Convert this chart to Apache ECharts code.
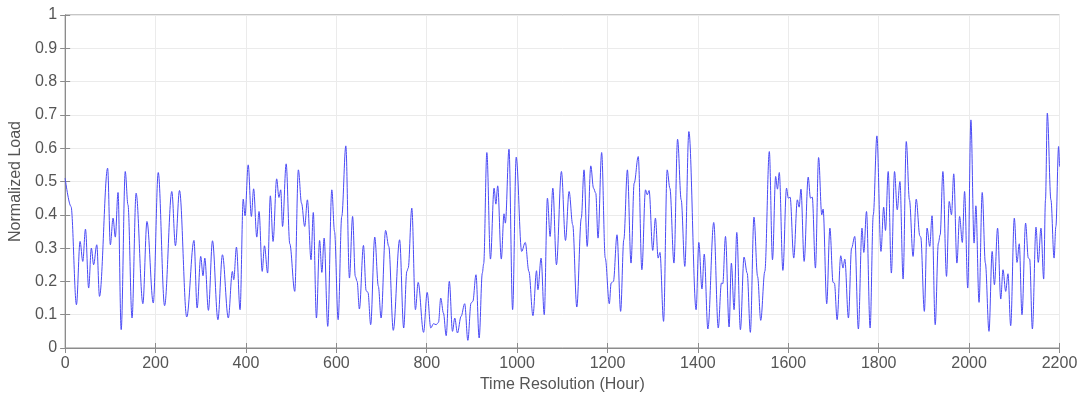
<!DOCTYPE html>
<html>
<head>
<meta charset="utf-8">
<script src="https://cdn.jsdelivr.net/npm/echarts@6/dist/echarts.min.js"></script>
<style>
  html, body { margin: 0; padding: 0; background: #fff; }
  #chart { width: 1083px; height: 399px; }
</style>
</head>
<body>
<div id="chart"></div>
<script>
// hour of each local extremum
const hours = [
  0, 13, 25, 33, 39, 45, 52, 58, 63, 70, 76, 94, 100, 106, 111, 117, 124, 133, 139, 148,
  157, 172, 181, 195, 206, 220, 236, 244, 253, 269, 285, 292, 300, 305, 309, 317, 326, 338,
  348, 361, 370, 373, 379, 387, 394, 398, 405, 412, 417, 424, 429, 436, 441, 448, 454, 460,
  468, 473, 477, 481, 489, 497, 508, 516, 523, 530, 536, 544, 549, 556, 563, 568, 573, 581,
  590, 596, 604, 612, 621, 629, 636, 642, 646, 651, 660, 666, 670, 676, 685, 693, 699, 709,
  716, 726, 740, 749, 756, 759, 767, 775, 781, 793, 801, 809, 815, 821, 826, 831, 837, 843,
  850, 857, 862, 868, 876, 884, 891, 898, 902, 909, 916, 923, 926, 933, 941, 949, 953, 957,
  965, 971, 974, 982, 990, 998, 1010, 1018, 1026, 1035, 1043, 1046, 1053, 1060, 1067, 1073,
  1079, 1087, 1098, 1107, 1115, 1123, 1132, 1142, 1148, 1155, 1163, 1169, 1174, 1179, 1187,
  1195, 1204, 1208, 1213, 1221, 1229, 1236, 1244, 1252, 1259, 1268, 1276, 1284, 1288, 1292,
  1300, 1306, 1312, 1316, 1324, 1332, 1338, 1347, 1355, 1363, 1371, 1380, 1396, 1402, 1409,
  1414, 1422, 1435, 1445, 1452, 1455, 1461, 1469, 1474, 1480, 1486, 1494, 1502, 1509, 1516,
  1524, 1532, 1539, 1548, 1558, 1565, 1572, 1576, 1580, 1588, 1596, 1600, 1604, 1612, 1620,
  1624, 1628, 1635, 1644, 1649, 1653, 1660, 1667, 1674, 1677, 1685, 1692, 1699, 1702, 1708,
  1716, 1721, 1725, 1733, 1740, 1747, 1755, 1763, 1767, 1773, 1781, 1788, 1796, 1805, 1811,
  1815, 1821, 1828, 1835, 1841, 1847, 1854, 1861, 1868, 1876, 1883, 1891, 1893, 1901, 1907,
  1913, 1918, 1925, 1932, 1936, 1942, 1950, 1956, 1961, 1966, 1973, 1979, 1985, 1990, 1997,
  2004, 2011, 2015, 2022, 2029, 2036, 2044, 2051, 2056, 2063, 2070, 2075, 2081, 2086, 2092,
  2100, 2106, 2111, 2117, 2125, 2131, 2134, 2140, 2148, 2153, 2159, 2165, 2169, 2173, 2181,
  2188, 2192, 2198, 2200
];
const load = [
  0.51, 0.425, 0.13, 0.32, 0.26, 0.357, 0.18, 0.30, 0.25, 0.31, 0.155, 0.54, 0.31, 0.39, 0.333, 0.467, 0.055, 0.53, 0.43, 0.09,
  0.465, 0.133, 0.38, 0.135, 0.527, 0.127, 0.47, 0.307, 0.473, 0.093, 0.323, 0.12, 0.275, 0.217, 0.27, 0.113, 0.322, 0.085,
  0.28, 0.09, 0.23, 0.205, 0.303, 0.115, 0.447, 0.397, 0.55, 0.395, 0.478, 0.333, 0.41, 0.23, 0.307, 0.225, 0.457, 0.32,
  0.508, 0.452, 0.475, 0.365, 0.553, 0.313, 0.17, 0.535, 0.435, 0.365, 0.445, 0.265, 0.407, 0.09, 0.323, 0.227, 0.33, 0.065,
  0.475, 0.35, 0.085, 0.395, 0.607, 0.21, 0.395, 0.215, 0.2, 0.117, 0.308, 0.172, 0.167, 0.07, 0.333, 0.185, 0.09, 0.353,
  0.305, 0.053, 0.325, 0.06, 0.23, 0.24, 0.42, 0.115, 0.197, 0.047, 0.167, 0.06, 0.073, 0.07, 0.077, 0.15, 0.105, 0.037,
  0.2, 0.05, 0.09, 0.045, 0.095, 0.133, 0.023, 0.135, 0.14, 0.22, 0.03, 0.225, 0.253, 0.587, 0.267, 0.48, 0.432, 0.487,
  0.267, 0.403, 0.375, 0.597, 0.115, 0.573, 0.29, 0.317, 0.23, 0.097, 0.232, 0.175, 0.27, 0.1, 0.45, 0.335,
  0.48, 0.25, 0.53, 0.323, 0.47, 0.37, 0.123, 0.39, 0.535, 0.305, 0.547, 0.48, 0.465, 0.33, 0.587,
  0.27, 0.133, 0.195, 0.2, 0.34, 0.11, 0.325, 0.535, 0.255, 0.495, 0.575, 0.235, 0.475, 0.46, 0.473,
  0.293, 0.39, 0.27, 0.287, 0.08, 0.535, 0.48, 0.255, 0.627, 0.445, 0.245, 0.65, 0.115, 0.317, 0.177,
  0.282, 0.057, 0.377, 0.06, 0.195, 0.193, 0.335, 0.063, 0.255, 0.115, 0.347, 0.055, 0.273, 0.225, 0.047,
  0.393, 0.215, 0.083, 0.23, 0.59, 0.265, 0.515, 0.477, 0.527, 0.233, 0.48, 0.45, 0.453, 0.27, 0.445,
  0.423, 0.477, 0.26, 0.513, 0.45, 0.453, 0.24, 0.572, 0.4, 0.417, 0.133, 0.36, 0.197, 0.195, 0.085,
  0.277, 0.24, 0.267, 0.09, 0.3, 0.335, 0.057, 0.36, 0.287, 0.41, 0.06, 0.4, 0.637, 0.29, 0.423,
  0.353, 0.53, 0.225, 0.53, 0.415, 0.5, 0.207, 0.62, 0.445, 0.275, 0.447, 0.337, 0.333, 0.11, 0.36,
  0.305, 0.397, 0.07, 0.315, 0.34, 0.53, 0.215, 0.44, 0.4, 0.523, 0.255, 0.395, 0.317, 0.47, 0.18,
  0.685, 0.315, 0.427, 0.137, 0.467, 0.255, 0.05, 0.29, 0.19, 0.36, 0.147, 0.235, 0.17, 0.223, 0.067,
  0.39, 0.257, 0.313, 0.1, 0.375, 0.27, 0.267, 0.057, 0.363, 0.257, 0.36, 0.207, 0.445, 0.705, 0.445,
  0.27, 0.365, 0.605, 0.545
];
const xTicks = [0, 200, 400, 600, 800, 1000, 1200, 1400, 1600, 1800, 2000, 2200];
const yTicks = [0, 0.1, 0.2, 0.3, 0.4, 0.5, 0.6, 0.7, 0.8, 0.9, 1];

const chart = echarts.init(document.getElementById('chart'));
const frame = '#8c8c8c';
const label = { color: '#555', fontSize: 16, fontFamily: 'Liberation Sans, Arial, sans-serif' };
const tick = { show: true, inside: true, length: 5, lineStyle: { color: frame } };

chart.setOption({
  animation: false,
  grid: { left: 62.5, right: 23.5, top: 15, bottom: 51, show: true, borderColor: frame, borderWidth: 1 },
  xAxis: [{
    type: 'value', min: xTicks[0], max: xTicks[xTicks.length - 1], interval: 200,
    name: 'Time Resolution (Hour)', nameLocation: 'middle', nameGap: 28,
    nameTextStyle: label,
    axisLine: { show: true, lineStyle: { color: frame } },
    axisTick: tick,
    axisLabel: Object.assign({ margin: 8, formatter: v => String(v) }, label),
    splitLine: { show: true, lineStyle: { color: '#ebebeb' } }
  }, {
    type: 'value', min: xTicks[0], max: xTicks[xTicks.length - 1], interval: 200, position: 'top',
    axisLine: { show: true, lineStyle: { color: frame } },
    axisTick: tick, axisLabel: { show: false }, splitLine: { show: false }
  }],
  yAxis: [{
    type: 'value', min: yTicks[0], max: yTicks[yTicks.length - 1], interval: 0.1,
    name: 'Normalized Load', nameLocation: 'middle', nameGap: 35,
    nameTextStyle: label,
    axisLine: { show: true, lineStyle: { color: frame } },
    axisTick: tick,
    axisLabel: Object.assign({ margin: 8, formatter: v => String(+v.toFixed(1)) }, label),
    splitLine: { show: true, lineStyle: { color: '#ebebeb' } }
  }, {
    type: 'value', min: yTicks[0], max: yTicks[yTicks.length - 1], interval: 0.1, position: 'right',
    axisLine: { show: true, lineStyle: { color: frame } },
    axisTick: tick, axisLabel: { show: false }, splitLine: { show: false }
  }],
  series: [{
    type: 'line',
    data: hours.map((h, i) => [h, load[i]]),
    showSymbol: false,
    smooth: 0.35,
    smoothMonotone: 'x',
    lineStyle: { color: '#4a4af5', width: 1 }
  }]
});
</script>
</body>
</html>
